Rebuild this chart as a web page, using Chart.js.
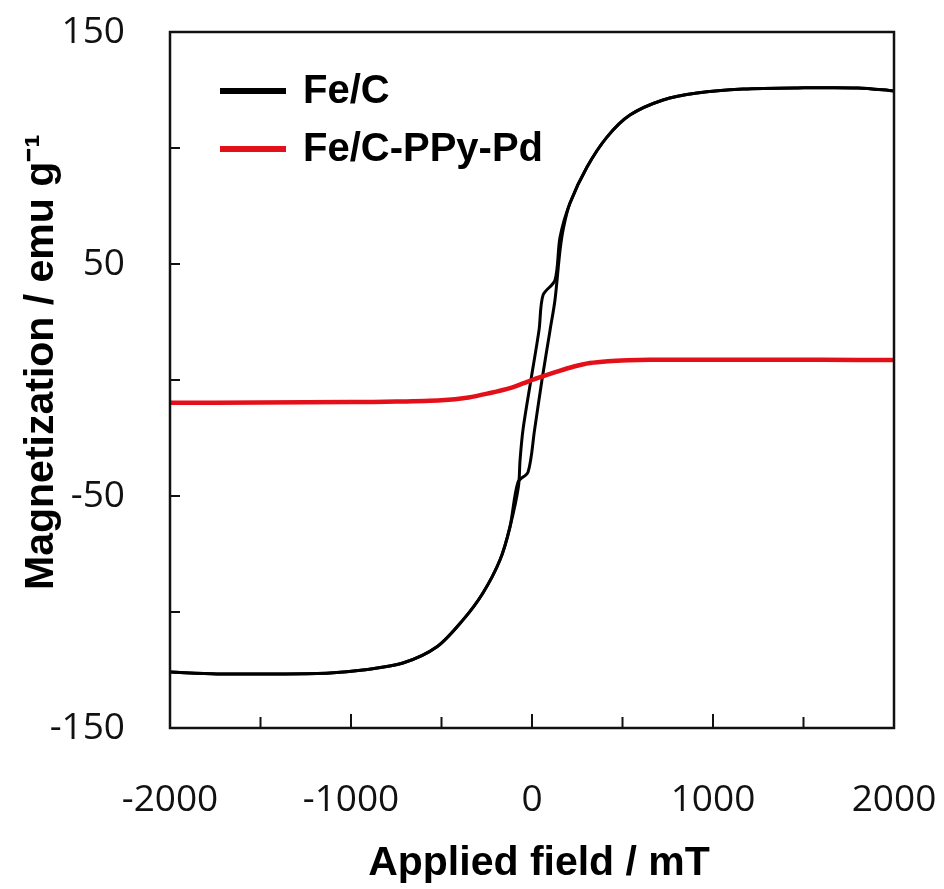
<!DOCTYPE html>
<html>
<head>
<meta charset="utf-8">
<script src="https://cdn.jsdelivr.net/npm/chart.js@4.4.1/dist/chart.umd.min.js"></script>
<style>
html, body { margin: 0; padding: 0; background: #fff; }
#wrap { width: 944px; height: 889px; }
</style>
</head>
<body>
<div id="wrap"><canvas id="mag-chart" width="944" height="889"></canvas></div>
<script>
// Fe/C loop, field sweeping down from +2000 mT
const feDownField = [2000, 1800, 1464, 1166, 912, 724, 541, 414, 304, 210, 155, 127, 61, 39, -6, -50, -66, -75, -122, -177, -271, -381, -525, -713, -934, -1116, -1376, -1740, -2000]
const feDownMag = [124.6, 125.9, 125.9, 125.4, 123.7, 120.7, 114.2, 104.7, 91.8, 76.3, 61.6, 43.0, 36.6, 21.6, 0, -21.6, -34.5, -46.0, -63.4, -77.6, -91.8, -103.4, -115.0, -122.0, -125.0, -126.3, -126.7, -126.7, -125.9]

// Fe/C loop, field sweeping back up
const feUpField = [-2000, -1740, -1376, -1116, -934, -713, -525, -381, -271, -177, -122, -77, -22, 14, 55, 100, 127, 155, 175, 210, 304, 414, 541, 724, 912, 1166, 1464, 1800, 2000]
const feUpMag = [-125.9, -126.7, -126.7, -126.3, -125.0, -122.0, -115.0, -103.4, -91.8, -77.6, -63.4, -44.0, -39.7, -21.6, 0, 21.6, 34.5, 56.0, 66.0, 76.3, 91.8, 104.7, 114.2, 120.7, 123.7, 125.4, 125.9, 125.9, 124.6]

// Fe/C-PPy-Pd
const pdField = [-2000, -1500, -1000, -750, -500, -350, -232, -122, -50, 0, 60, 138, 227, 320, 420, 530, 650, 800, 1200, 1600, 2000]
const pdMag = [-9.8, -9.7, -9.5, -9.3, -8.7, -7.5, -5.6, -3.5, -1.5, 0, 1.6, 3.6, 5.7, 7.3, 8.1, 8.5, 8.7, 8.7, 8.7, 8.7, 8.6]

const xLabels = [-2000, -1000, 0, 1000, 2000]
const yLabels = [-150, -50, 50, 150]
const seriesNames = ['Fe/C', 'Fe/C-PPy-Pd']
const seriesColors = ['#000000', '#e3101a']
const xTitle = 'Applied field / mT'
const yTitle = 'Magnetization / emu g\u207B\u00B9'

const canvas = document.querySelector('#mag-chart')
const boldFont = '"Liberation Sans", Arial, sans-serif'

function toPoints(xs, ys) {
    return xs.map((x, i) => ({ x: x, y: ys[i] }))
}

// ticks pointing into the plot + full frame
const innerTicks = {
    id: 'innerTicks',
    afterDraw(chart) {
        const { ctx, chartArea: a, scales: { x, y } } = chart
        ctx.save()
        ctx.strokeStyle = '#111'
        ctx.lineWidth = 2
        x.ticks.forEach(t => {
            const px = x.getPixelForValue(t.value)
            const len = xLabels.includes(t.value) ? 14 : 11
            ctx.beginPath()
            ctx.moveTo(px, a.bottom)
            ctx.lineTo(px, a.bottom - len)
            ctx.stroke()
        })
        y.ticks.forEach(t => {
            const py = y.getPixelForValue(t.value)
            ctx.beginPath()
            ctx.moveTo(a.left, py)
            ctx.lineTo(a.left + 10, py)
            ctx.stroke()
        })
        ctx.lineWidth = 2.5
        ctx.strokeRect(a.left, a.top, a.right - a.left, a.bottom - a.top)
        ctx.restore()
    }
}

// axis titles (the reference sets them a bit off-centre)
const axisTitles = {
    id: 'axisTitles',
    afterDraw(chart) {
        const { ctx, chartArea: a } = chart
        ctx.save()
        ctx.fillStyle = '#000'
        ctx.font = 'bold 41px ' + boldFont
        ctx.textAlign = 'center'
        ctx.textBaseline = 'alphabetic'
        ctx.fillText(xTitle, (a.left + a.right) / 2 + 7, a.bottom + 147)
        ctx.translate(a.left - 117, a.top + 330)
        ctx.rotate(-Math.PI / 2)
        ctx.fillText(yTitle, 0, 0)
        ctx.restore()
    }
}

// legend sitting inside the plot, top left
const boxLegend = {
    id: 'boxLegend',
    afterDraw(chart) {
        const { ctx, chartArea: a } = chart
        ctx.save()
        ctx.font = 'bold 40px ' + boldFont
        ctx.textBaseline = 'middle'
        ctx.textAlign = 'left'
        seriesNames.forEach((name, i) => {
            const yy = a.top + 59 + i * 58
            ctx.strokeStyle = seriesColors[i]
            ctx.lineWidth = 6
            ctx.beginPath()
            ctx.moveTo(a.left + 50, yy)
            ctx.lineTo(a.left + 116, yy)
            ctx.stroke()
            ctx.fillStyle = '#000'
            ctx.fillText(name, a.left + 133, yy + 1)
        })
        ctx.restore()
    }
}

const lineBase = {
    showLine: true,
    pointRadius: 0,
    fill: false,
    tension: 0.3
}

new Chart(canvas, {
    type: 'scatter',
    data: {
        datasets: [
            { ...lineBase, label: seriesNames[1], data: toPoints(pdField, pdMag), borderColor: seriesColors[1], borderWidth: 4.5, order: 0 },
            { ...lineBase, label: seriesNames[0], data: toPoints(feDownField, feDownMag), borderColor: seriesColors[0], borderWidth: 3, order: 1 },
            { ...lineBase, label: seriesNames[0], data: toPoints(feUpField, feUpMag), borderColor: seriesColors[0], borderWidth: 3, order: 2 }
        ]
    },
    options: {
        responsive: false,
        animation: false,
        events: [],
        layout: { padding: { top: 32, right: 50, left: 0, bottom: 0 } },
        scales: {
            x: {
                type: 'linear',
                min: -2000,
                max: 2000,
                grid: { display: false, drawTicks: false },
                border: { display: false },
                ticks: {
                    stepSize: 500,
                    autoSkip: false,
                    maxRotation: 0,
                    padding: 50,
                    color: '#111',
                    font: { family: '"Open Sans", sans-serif', size: 37 },
                    callback: v => xLabels.includes(v) ? String(v) : ''
                },
                afterFit: s => {
                    s.height = 161
                    s.paddingLeft = 0
                    s.paddingRight = 0
                }
            },
            y: {
                type: 'linear',
                min: -150,
                max: 150,
                grid: { display: false, drawTicks: false },
                border: { display: false },
                ticks: {
                    stepSize: 50,
                    autoSkip: false,
                    padding: 45,
                    color: '#111',
                    font: { family: '"Open Sans", sans-serif', size: 37 },
                    callback: v => yLabels.includes(v) ? String(v) : ''
                },
                afterFit: s => {
                    s.width = 170
                    s.paddingTop = 0
                    s.paddingBottom = 0
                }
            }
        },
        plugins: {
            legend: { display: false },
            tooltip: { enabled: false }
        }
    },
    plugins: [innerTicks, axisTitles, boxLegend]
})
</script>
</body>
</html>
